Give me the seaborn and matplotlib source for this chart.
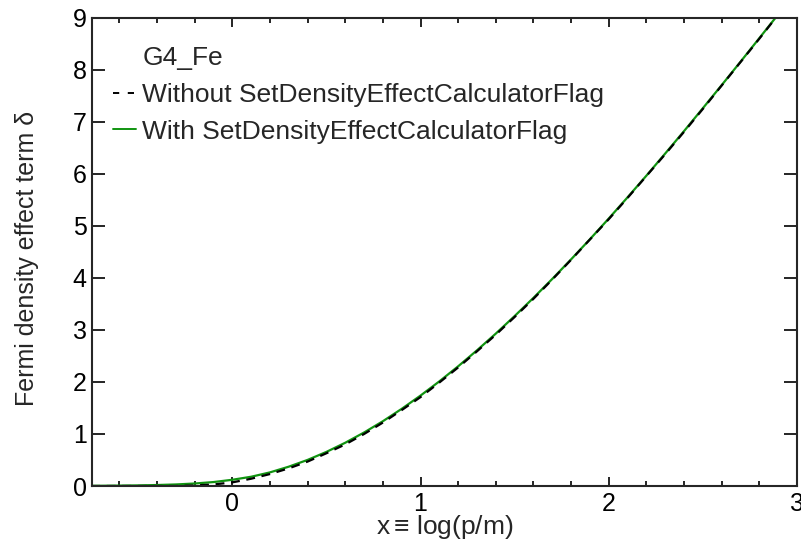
import pandas as pd
import matplotlib
matplotlib.use('Agg')
import matplotlib.pyplot as plt
import seaborn as sns
from matplotlib.lines import Line2D
from matplotlib.ticker import MultipleLocator

# values
x_vals = [-0.75, -0.7, -0.6, -0.5, -0.4, -0.3, -0.2, -0.1, 0.0, 0.1, 0.2, 0.3, 0.4, 0.5,
          0.6, 0.7, 0.8, 0.9, 1.0, 1.1, 1.2, 1.3, 1.4, 1.5, 1.6, 1.7, 1.8, 1.9, 2.0,
          2.1, 2.2, 2.3, 2.4, 2.5, 2.6, 2.7, 2.8, 2.9, 3.0]
delta_with = [0.004, 0.005, 0.008, 0.012, 0.019, 0.030, 0.048, 0.076, 0.12, 0.178, 0.262,
              0.372, 0.502, 0.656, 0.832, 1.029, 1.246, 1.484, 1.739, 2.012, 2.302, 2.609,
              2.931, 3.268, 3.618, 3.982, 4.358, 4.745, 5.143, 5.551, 5.967, 6.393, 6.824,
              7.264, 7.708, 8.157, 8.611, 9.066, 9.525]
delta_without = [0.0, 0.0, 0.0, 0.0, 0.0, 0.0, 0.01, 0.03, 0.07, 0.14, 0.23, 0.34, 0.47,
                 0.63, 0.80, 1.00, 1.22, 1.46, 1.71, 1.99, 2.28, 2.59, 2.91, 3.25, 3.60,
                 3.97, 4.35, 4.74, 5.13, 5.54, 5.96, 6.38, 6.81, 7.25, 7.70, 8.15, 8.60,
                 9.06, 9.52]

df = pd.DataFrame({'x': x_vals, 'with': delta_with, 'without': delta_without})

sns.set_style('ticks')
plt.rcParams['font.family'] = ['Liberation Sans', 'DejaVu Sans']

fig = plt.figure(figsize=(8.01, 5.42), dpi=100)
ax = fig.add_axes([0.115, 0.1033, 0.88, 0.8637])

sns.lineplot(data=df, x='x', y='with', ax=ax, color='#109410', lw=1.6)
sns.lineplot(data=df, x='x', y='without', ax=ax, color='black', lw=1.6,
             linestyle=(0, (4, 3)))

ax.set_xlim(-0.745, 3.0)
ax.set_ylim(0, 9)
ax.xaxis.set_major_locator(MultipleLocator(1))
ax.xaxis.set_minor_locator(MultipleLocator(0.2))
ax.yaxis.set_major_locator(MultipleLocator(1))

ax.tick_params(axis='both', which='both', direction='in', top=True, right=True,
               labelsize=18, width=1.2, colors='black')
ax.tick_params(axis='x', which='major', length=6.5, pad=4)
ax.tick_params(axis='x', which='minor', length=3.6)
ax.tick_params(axis='y', which='major', length=9.4, pad=4)
for s in ax.spines.values():
    s.set_linewidth(1.5)

ax.set_xlabel('x$\\,$≡ log(p/m)', fontsize=19, labelpad=-1.5)
ax.set_ylabel('Fermi density effect term δ', fontsize=18, labelpad=24)
ax.yaxis.set_label_coords(-0.075, 0.487)

handles = [Line2D([], [], color='none'),
           Line2D([], [], color='black', lw=1.4, linestyle=(0, (3.2, 4.4))),
           Line2D([], [], color='#109410', lw=1.4)]
labels = ['G4_Fe', 'Without SetDensityEffectCalculatorFlag',
          'With SetDensityEffectCalculatorFlag']
ax.legend(handles, labels, loc='upper left', bbox_to_anchor=(0.015, 0.962),
          frameon=False, fontsize=19, handlelength=0.87, handletextpad=0.23,
          labelspacing=0.48, borderaxespad=0)

fig.savefig('out.png', dpi=100)
